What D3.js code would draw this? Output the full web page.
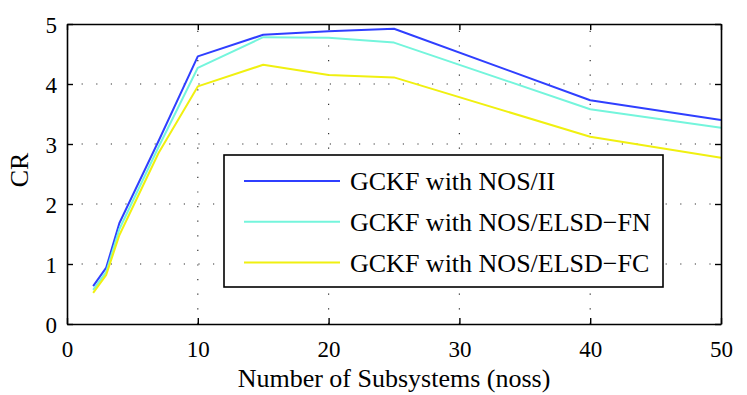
<!DOCTYPE html>
<html>
<head>
<meta charset="utf-8">
<script src="https://cdn.jsdelivr.net/npm/d3@7"></script>
<style>
  body { margin: 0; background: #fff; }
  svg text { font-family: "Liberation Serif", "DejaVu Serif", serif; fill: #000; }
</style>
</head>
<body>
<svg id="chart" width="747" height="395"></svg>
<script>
// data
const noss = [2, 3, 4, 7, 10, 15, 20, 25, 40, 50];
const crII = [0.63, 0.94, 1.68, 3.05, 4.46, 4.82, 4.88, 4.92, 3.73, 3.40];
const crFN = [0.57, 0.87, 1.58, 2.95, 4.27, 4.78, 4.77, 4.69, 3.58, 3.27];
const crFC = [0.52, 0.82, 1.48, 2.85, 3.96, 4.32, 4.15, 4.11, 3.12, 2.77];
const seriesNames = ["GCKF with NOS/II", "GCKF with NOS/ELSD\u2212FN", "GCKF with NOS/ELSD\u2212FC"];
const xTicks = [0, 10, 20, 30, 40, 50];
const yTicks = [0, 1, 2, 3, 4, 5];

const colors = ["#2f3fff", "#74f5dc", "#f0f010"];
const series = [crII, crFN, crFC];

const margin = { top: 24, right: 26, bottom: 71, left: 67 };
const svg = d3.select("#chart");
const width = 747 - margin.left - margin.right;
const height = 395 - margin.top - margin.bottom;

const chart = svg.append("g")
  .attr("transform", "translate(" + margin.left + "," + margin.top + ")");

const xScale = d3.scaleLinear().domain([0, 50]).range([0, width]);
const yScale = d3.scaleLinear().domain([0, 5]).range([height, 0]);

// dotted grid
chart.append("g").selectAll("line")
  .data(xTicks.slice(1, -1))
  .enter().append("line")
  .attr("x1", d => xScale(d)).attr("x2", d => xScale(d))
  .attr("y1", height).attr("y2", 0)
  .attr("stroke", "#333").attr("stroke-width", 1.2)
  .attr("stroke-dasharray", "1.2,13.4");
chart.append("g").selectAll("line")
  .data(yTicks.slice(1, -1))
  .enter().append("line")
  .attr("x1", 0).attr("x2", width)
  .attr("y1", d => yScale(d)).attr("y2", d => yScale(d))
  .attr("stroke", "#333").attr("stroke-width", 1.2)
  .attr("stroke-dasharray", "1.2,13.4");

// series lines
const line = d3.line()
  .x((d, i) => xScale(noss[i]))
  .y(d => yScale(d));

series.forEach((s, k) => {
  chart.append("path")
    .datum(s)
    .attr("fill", "none")
    .attr("stroke", colors[k])
    .attr("stroke-width", 2)
    .attr("stroke-linejoin", "round")
    .attr("d", line);
});

// axes with inward ticks, box style
const fmt = d3.format("d");
const xAxis = chart.append("g")
  .attr("transform", "translate(0," + height + ")")
  .call(d3.axisBottom(xScale).tickValues(xTicks).tickFormat(fmt).tickSizeInner(-6).tickSizeOuter(0).tickPadding(17));
const xAxisTop = chart.append("g")
  .call(d3.axisTop(xScale).tickValues(xTicks).tickSizeInner(-6).tickSizeOuter(0).tickFormat(""));
const yAxis = chart.append("g")
  .call(d3.axisLeft(yScale).tickValues(yTicks).tickFormat(fmt).tickSizeInner(-6).tickSizeOuter(0).tickPadding(10));
const yAxisRight = chart.append("g")
  .attr("transform", "translate(" + width + ",0)")
  .call(d3.axisRight(yScale).tickValues(yTicks).tickSizeInner(-6).tickSizeOuter(0).tickFormat(""));

[xAxis, xAxisTop, yAxis, yAxisRight].forEach(g => {
  g.attr("font-family", "Liberation Serif").attr("font-size", 23);
  g.select(".domain").attr("stroke", "#000").attr("stroke-width", 1.6);
  g.selectAll(".tick line").attr("stroke", "#000").attr("stroke-width", 1.4);
  g.selectAll("text").attr("fill", "#000");
});
yAxis.selectAll("text").attr("dy", "0.35em");

// axis titles
svg.append("text")
  .attr("x", margin.left + width / 2)
  .attr("y", 387)
  .attr("text-anchor", "middle")
  .style("font-size", "26px")
  .text("Number of Subsystems (noss)");

svg.append("text")
  .attr("transform", "translate(28," + 170 + ") rotate(-90)")
  .attr("text-anchor", "middle")
  .style("font-size", "26px")
  .text("CR");

// legend box
const legend = svg.append("g");
legend.append("rect")
  .attr("x", 224).attr("y", 155)
  .attr("width", 439).attr("height", 132)
  .attr("fill", "#fff")
  .attr("stroke", "#000").attr("stroke-width", 1.6);

seriesNames.forEach((name, k) => {
  const yRow = 181 + k * 40.7;
  legend.append("line")
    .attr("x1", 244).attr("x2", 340)
    .attr("y1", yRow).attr("y2", yRow)
    .attr("stroke", colors[k]).attr("stroke-width", 2);
  legend.append("text")
    .attr("x", 350).attr("y", yRow)
    .attr("dy", "0.35em")
    .style("font-size", "26px")
    .text(name);
});
</script>
</body>
</html>
